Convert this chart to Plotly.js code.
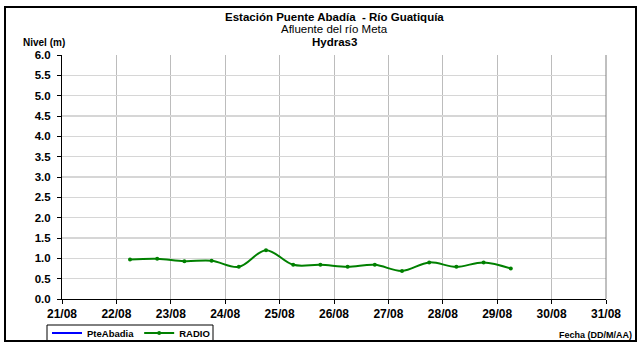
<!DOCTYPE html>
<html><head><meta charset="utf-8">
<script src="https://cdn.plot.ly/plotly-3.0.1.min.js"></script>
<style>html,body{margin:0;padding:0;background:#fff;}#wrap{position:relative;width:640px;height:345px;}
#chart{width:640px;height:345px;}#frame{position:absolute;left:4px;top:6px;width:629px;height:332px;border:2px solid #000;pointer-events:none;}</style>
</head><body><div id="wrap"><div id="chart"></div><div id="frame"></div></div>
<script>
var fechas = ["2023-08-22 06:00","2023-08-22 18:00","2023-08-23 06:00","2023-08-23 18:00","2023-08-24 06:00","2023-08-24 18:00","2023-08-25 06:00","2023-08-25 18:00","2023-08-26 06:00","2023-08-26 18:00","2023-08-27 06:00","2023-08-27 18:00","2023-08-28 06:00","2023-08-28 18:00","2023-08-29 06:00"];
var radio = [0.97,0.99,0.93,0.94,0.79,1.20,0.84,0.84,0.79,0.84,0.69,0.90,0.79,0.90,0.75];
var pteAbadiaX = [null];
var pteAbadiaY = [null];
var yTicks = [0,0.5,1,1.5,2,2.5,3,3.5,4,4.5,5,5.5,6];
var yTickText = ["0.0","0.5","1.0","1.5","2.0","2.5","3.0","3.5","4.0","4.5","5.0","5.5","6.0"];
var titulo1 = "Estación Puente Abadía  - Río Guatiquía";
var titulo2 = "Afluente del río Meta";
var titulo3 = "Hydras3";

var F = "Liberation Sans, Arial, sans-serif";
var traces = [
 {x:pteAbadiaX, y:pteAbadiaY, name:"PteAbadia", mode:"lines", line:{color:"#0000ff",width:2}, showlegend:true},
 {x:fechas, y:radio, name:"RADIO", mode:"lines+markers", line:{color:"#008000",width:2,shape:"spline",smoothing:1}, marker:{color:"#008000",size:4,symbol:"circle"}}
];
function py(px){return (299-px)/244;}
function pxx(px){return (px-62)/544;}
var layout = {
 width:640, height:345,
 margin:{l:62,r:34,t:55,b:46},
 paper_bgcolor:"#fff", plot_bgcolor:"#fff",
 font:{family:F,size:11,color:"#000"},
 xaxis:{type:"date", range:["2023-08-21","2023-08-31"], dtick:86400000, tick0:"2023-08-21", tickformat:"%d/%m",
   showgrid:true, gridcolor:"#bcbcbc", gridwidth:1, showline:true, linecolor:"#000", linewidth:1,
   ticks:"outside", ticklen:4, tickcolor:"#000", tickfont:{family:F,size:12,color:"#000",weight:"bold"}, zeroline:false, fixedrange:true},
 yaxis:{range:[0,6], tickvals:yTicks, ticktext:yTickText, showgrid:true, gridcolor:"#d6d6d6", gridwidth:1.5,
   showline:true, linecolor:"#000", linewidth:1, ticks:"outside", ticklen:4, tickcolor:"#000", ticklabelstandoff:4,
   tickfont:{family:F,size:11.5,color:"#000",weight:"bold"}, zeroline:false, fixedrange:true},
 showlegend:true,
 legend:{orientation:"h", xref:"container", yref:"container", x:47/640, xanchor:"left", y:1-333/345, yanchor:"middle",
   bgcolor:"rgba(0,0,0,0)", borderwidth:0, font:{family:F,size:9.5,color:"#000",weight:"bold"}, itemwidth:30, tracegroupgap:0},
 shapes:[
  {type:"line",xref:"paper",yref:"paper",x0:1,x1:1,y0:0,y1:1,line:{color:"#808080",width:1}},
  {type:"rect",xref:"paper",yref:"paper",x0:pxx(47),x1:pxx(213),y0:py(341),y1:py(325),line:{color:"#000",width:1},fillcolor:"rgba(0,0,0,0)"}
 ],
 annotations:[
  {text:"<b>"+titulo1+"</b>", xref:"paper", yref:"paper", x:0.5, y:py(17), xanchor:"center", yanchor:"middle", showarrow:false, font:{family:F,size:11.5,color:"#000"}},
  {text:titulo2, xref:"paper", yref:"paper", x:0.5, y:py(29.5), xanchor:"center", yanchor:"middle", showarrow:false, font:{family:F,size:11.5,color:"#000"}},
  {text:"<b>"+titulo3+"</b>", xref:"paper", yref:"paper", x:0.5, y:py(42), xanchor:"center", yanchor:"middle", showarrow:false, font:{family:F,size:11.5,color:"#000"}},
  {text:"<b>Nivel (m)</b>", xref:"paper", yref:"paper", x:pxx(21), y:py(42), xanchor:"left", yanchor:"middle", showarrow:false, font:{family:F,size:10,color:"#000"}},
  {text:"<b>Fecha (DD/M/AA)</b>", xref:"paper", yref:"paper", x:pxx(634), y:py(335), xanchor:"right", yanchor:"middle", showarrow:false, font:{family:F,size:9,color:"#000"}}
 ]
};
Plotly.newPlot("chart", traces, layout, {displayModeBar:false, staticPlot:true});
</script></body></html>
